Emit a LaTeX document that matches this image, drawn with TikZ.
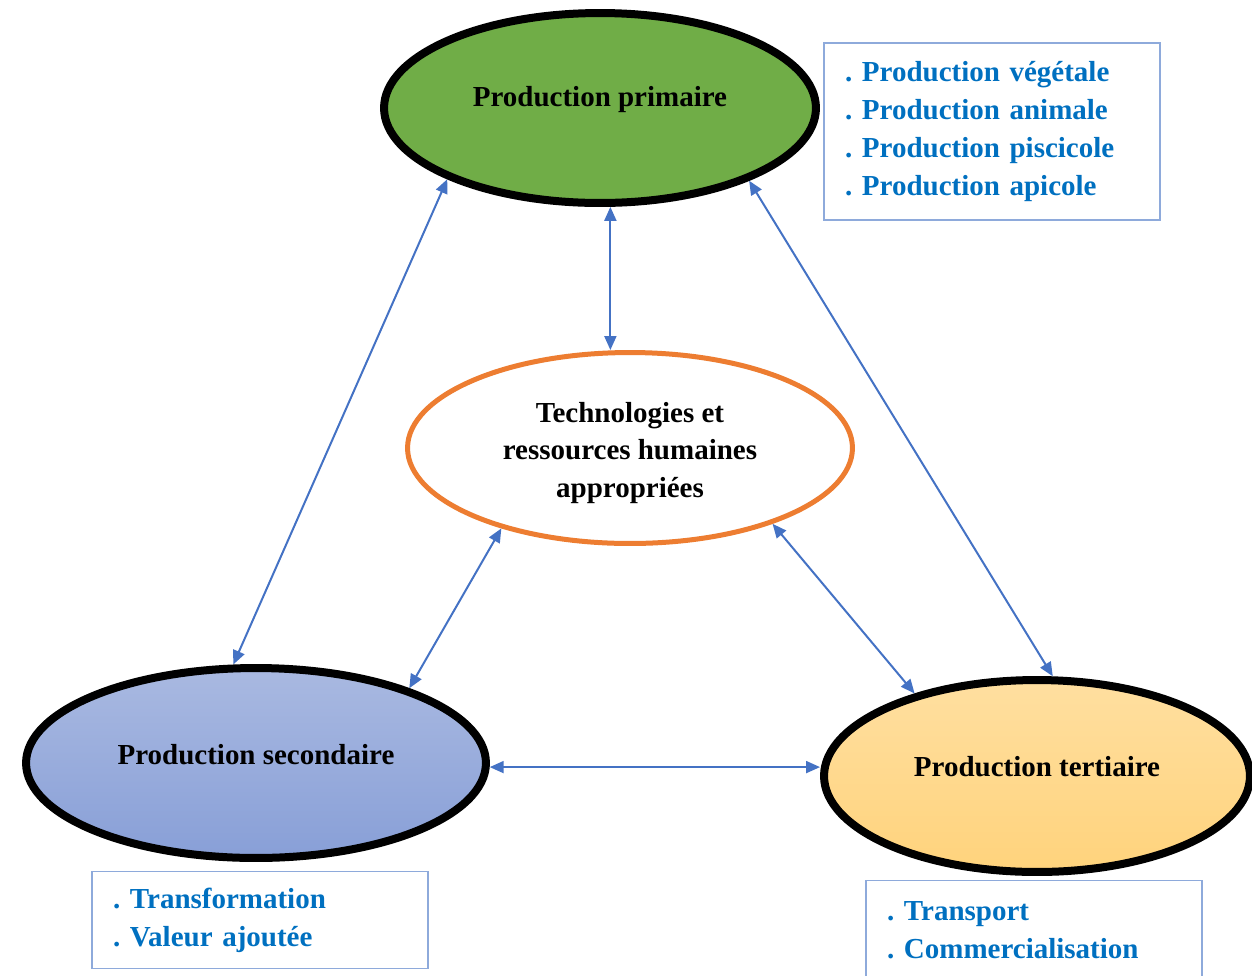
\documentclass[tikz,border=0pt]{standalone}
\usepackage{fontspec}
\setmainfont{Liberation Serif}
\frenchspacing
\usetikzlibrary{shapes.geometric,arrows.meta}
\definecolor{pgreen}{HTML}{70AD47}
\definecolor{porange}{HTML}{ED7D31}
\definecolor{arrblue}{HTML}{4472C4}
\definecolor{boxline}{HTML}{8EAADB}
\definecolor{txtblue}{HTML}{0070C0}
\definecolor{secTop}{HTML}{A9B9E1}
\definecolor{secBot}{HTML}{889FD7}
\definecolor{terTop}{HTML}{FFDFA0}
\definecolor{terBot}{HTML}{FFD37C}
\tikzset{
  bigell/.style={ellipse, draw=black, line width=0.16cm, inner sep=0pt},
  maintext/.style={font=\fontsize{16.5}{21.5}\selectfont\bfseries, align=center, text=black, inner sep=0pt},
  listbox/.style={draw=boxline, line width=0.7pt, minimum width=6.72cm, text width=5.88cm, inner xsep=0.42cm, align=left, font=\fontsize{16.5}{21.5}\selectfont\bfseries\frenchspacing, text=txtblue},
  link/.style={{Triangle[length=0.28cm,width=0.24cm]}-{Triangle[length=0.28cm,width=0.24cm]}, draw=arrblue, line width=0.04cm}
}
\begin{document}
\begin{tikzpicture}[x=0.02cm,y=-0.02cm]
\useasboundingbox (0,0) rectangle (1252,975);
% ellipses
\node[bigell, fill=pgreen, minimum width=8.64cm, minimum height=3.8cm] (prim) at (600,108) {};
\node[ellipse, draw=porange, line width=0.1cm, fill=white, inner sep=0pt, minimum width=8.9cm, minimum height=3.82cm] (tech) at (630,448) {};
\node[bigell, top color=secTop, bottom color=secBot, minimum width=9.2cm, minimum height=3.8cm] (sec) at (256,763) {};
\node[bigell, top color=terTop, bottom color=terBot, minimum width=8.52cm, minimum height=3.84cm] (ter) at (1037,776) {};
% texts
\node[maintext] (primT) at (600,100) {Production primaire};
\node[maintext] (techT) at (630,453) {Technologies et\\ressources humaines\\appropriées};
\node[maintext] (secT) at (256,755) {Production secondaire};
\node[maintext] (terT) at (1037,767) {Production tertiaire};
% boxes
\node[listbox, minimum height=3.54cm] (boxP) at (992,131.5) {. Production végétale\\. Production animale\\. Production piscicole\\. Production apicole};
\node[listbox, minimum height=1.94cm] (boxS) at (260,920) {. Transformation\\. Valeur ajoutée};
\node[listbox, minimum height=1.98cm] (boxT) at (1034,930) {. Transport\\. Commercialisation};
% connectors
\draw[link] (prim.205.6) -- (sec.103.1);
\draw[link] (prim.276.7) -- (prim.276.7 |- tech.north);
\draw[link] (prim.334.2) -- (ter.81.3);
\draw[link] (tech.212.6) -- (sec.26.6);
\draw[link] (tech.332.2) -- (ter.146.9);
\draw[link] (sec.-1.5) -- (sec.-1.5 -| ter.west);
\end{tikzpicture}
\end{document}
